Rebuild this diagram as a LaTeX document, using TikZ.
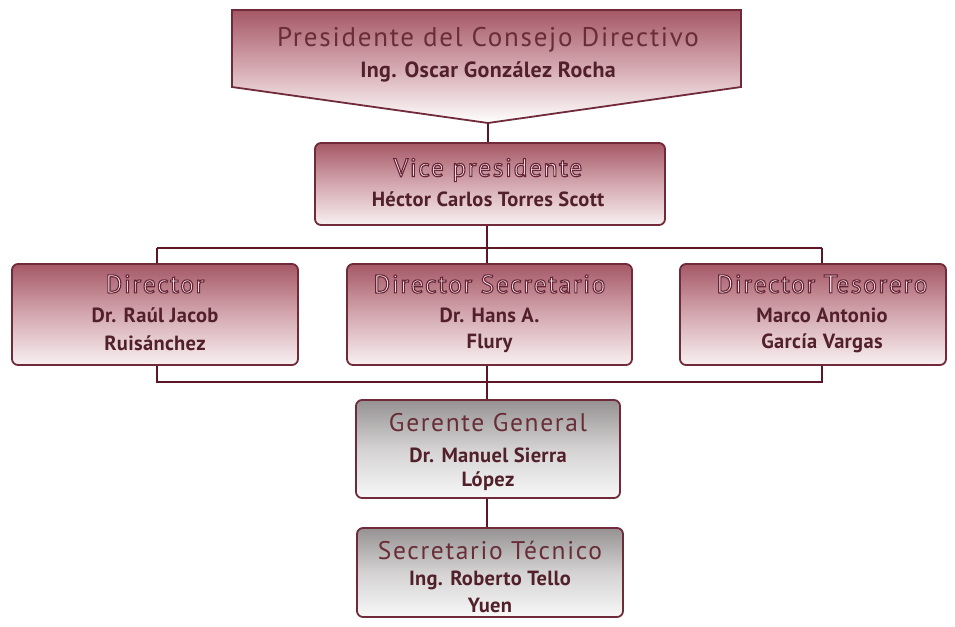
\documentclass[tikz,border=0pt]{standalone}
\usepackage{fontspec}
\setmainfont{PT Sans}
\newfontfamily\ttlfont[LetterSpace=6.5]{PT Sans}
\newfontfamily\nmfont[LetterSpace=1.5]{PT Sans}
\definecolor{mborder}{RGB}{112,42,58}
\definecolor{mline}{RGB}{92,22,38}
\definecolor{rtop}{RGB}{165,88,102}
\definecolor{rmid}{RGB}{212,168,176}
\definecolor{rbot}{RGB}{248,240,242}
\definecolor{gtop}{RGB}{150,146,147}
\definecolor{gmid}{RGB}{212,210,210}
\definecolor{gbot}{RGB}{248,248,248}
\definecolor{namec}{RGB}{82,32,42}
\definecolor{tlfill}{RGB}{255,242,244}
\definecolor{tdark}{RGB}{105,45,55}
\newcommand{\ttlight}[1]{{\color{tlfill}\special{pdf:literal direct 0.40 0.14 0.21 RG 1.1 w 2 Tr}#1\special{pdf:literal direct 0 Tr}}}
\newcommand{\ttdark}[1]{{\color{tdark}#1}}
\tikzset{
  redbox/.style={draw=mborder, line width=1.8pt, rounded corners=6pt, top color=rtop, bottom color=rbot, middle color=rmid, inner sep=0pt},
  graybox/.style={draw=mborder, line width=1.8pt, rounded corners=6pt, top color=gtop, bottom color=gbot, middle color=gmid, inner sep=0pt},
  conn/.style={draw=mline, line width=2.8pt},
  ttl/.style={inner sep=0pt, font=\ttlfont\fontsize{25.5}{28}\selectfont},
  ttlbig/.style={inner sep=0pt, font=\ttlfont\fontsize{27}{30}\selectfont},
  nm/.style={inner sep=0pt, text=namec, font=\nmfont\fontsize{20.5}{23}\selectfont\bfseries},
  nmbig/.style={inner sep=0pt, text=namec, font=\nmfont\fontsize{22}{25}\selectfont\bfseries},
}
\begin{document}
\begin{tikzpicture}[x=1pt,y=-1pt]
\useasboundingbox (0,0) rectangle (955,626);
% president pentagon
\shade[top color=rtop, bottom color=white, middle color=rmid, draw=mborder, line width=1.8pt]
  (232,10) -- (741,10) -- (741,87) -- (488,123) -- (232,87) -- cycle;
\coordinate (prestip) at (488,123);
\node[ttlbig] (prest) at (488,40) {\ttdark{Presidente del Consejo Directivo}};
\node[nmbig] (presn) at (488,72) {Ing. Oscar González Rocha};

% vice
\node[redbox, minimum width=350, minimum height=82] (vice) at (490,184) {};
\node[ttl] (vicet) at (488,170) {\ttlight{Vice presidente}};
\node[nm] (vicen) at (488,199) {Héctor Carlos Torres Scott};

% directors
\node[redbox, minimum width=286, minimum height=101] (d1) at (155,314.5) {};
\node[redbox, minimum width=285, minimum height=101] (d2) at (489.5,314.5) {};
\node[redbox, minimum width=266, minimum height=101] (d3) at (813,314.5) {};
\node[ttl] (d1t) at (155,284) {\ttlight{Director}};
\node[nm] (d1a) at (155,315) {Dr. Raúl Jacob};
\node[nm] (d1b) at (155,343) {Ruisánchez};
\node[ttl] (d2t) at (489.5,284) {\ttlight{Director Secretario}};
\node[nm] (d2a) at (489.5,315) {Dr. Hans A.};
\node[nm] (d2b) at (489.5,343) {Flury};
\node[ttl] (d3t) at (822,284) {\ttlight{Director Tesorero}};
\node[nm] (d3a) at (822,315) {Marco Antonio};
\node[nm] (d3b) at (822,343) {García Vargas};

% gerente and secretario
\node[graybox, minimum width=264, minimum height=98] (ger) at (488,449) {};
\node[ttl] (gert) at (488,423) {\ttdark{Gerente General}};
\node[nm] (gera) at (488,455) {Dr. Manuel Sierra};
\node[nm] (gerb) at (488,481) {López};
\node[graybox, minimum width=266, minimum height=89] (sec) at (490,572.5) {};
\node[ttl] (sect) at (490,550) {\ttdark{Secretario Técnico}};
\node[nm] (seca) at (490,580) {Ing. Roberto Tello};
\node[nm] (secb) at (490,605) {Yuen};

% buses
\coordinate (tL) at (157,248);
\coordinate (tR) at (822,248);
\coordinate (bL) at (157,382);
\coordinate (bR) at (822,382);
\coordinate (mx) at (487,248);

\draw[conn] (prestip) -- (prestip |- vice.north);
\draw[conn] (vice.south -| mx) -- (d2.north -| mx);
\draw[conn] (tL) -- (tR);
\draw[conn] (tL) -- (tL |- d1.north);
\draw[conn] (tR) -- (tR |- d3.north);
\draw[conn] (bL |- d1.south) -- (bL) -- (bR) -- (bR |- d3.south);
\draw[conn] (d2.south -| mx) -- (ger.north -| mx);
\draw[conn] (ger.south -| mx) -- (sec.north -| mx);
\end{tikzpicture}
\end{document}
